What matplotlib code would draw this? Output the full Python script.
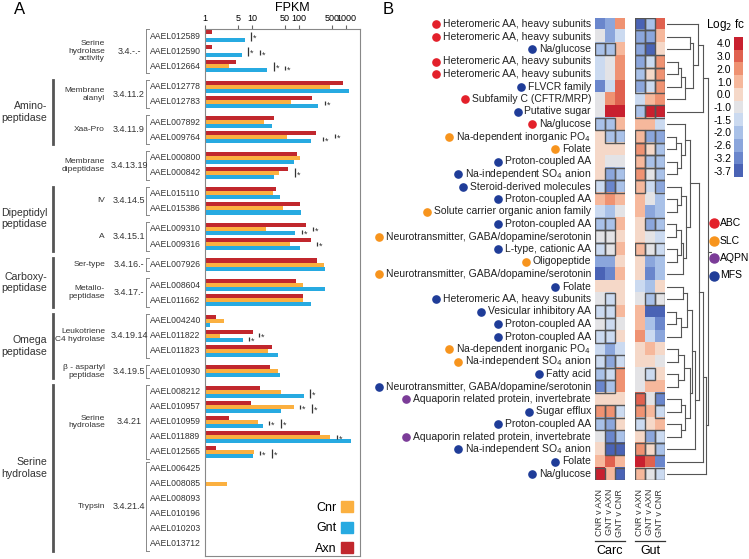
import numpy as np
import matplotlib
matplotlib.use("Agg")
import matplotlib.pyplot as plt
from matplotlib.colors import ListedColormap
from matplotlib.patches import Rectangle, Patch
from matplotlib.lines import Line2D
from matplotlib.ticker import NullFormatter
from matplotlib.transforms import blended_transform_factory

plt.rcParams['font.family'] = ['Liberation Sans', 'DejaVu Sans']

W, H = 749, 559

# ---------------- panel A data ----------------
genes = ["AAEL012589", "AAEL012590", "AAEL012664",
         "AAEL012778", "AAEL012783", "AAEL007892", "AAEL009764",
         "AAEL000800", "AAEL000842",
         "AAEL015110", "AAEL015386", "AAEL009310", "AAEL009316",
         "AAEL007926", "AAEL008604", "AAEL011662",
         "AAEL004240", "AAEL011822", "AAEL011823", "AAEL010930",
         "AAEL008212", "AAEL010957", "AAEL010959", "AAEL011889", "AAEL012565",
         "AAEL006425", "AAEL008085", "AAEL008093", "AAEL010196", "AAEL010203", "AAEL013712"]
nan = np.nan
axn = [1.4, 1.43, 4.6, 880, 190, 29, 235, 92, 59, 32, 105, 144, 178, 238, 85, 120,
       1.7, 10.7, 27, 24, 15, 9.4, 3.2, 280, 1.7, nan, nan, nan, nan, nan, nan]
cnr = [nan, nan, 3.2, 470, 68, 18, 57, 103, 38, 28, 46, 20, 65, 345, 120, 123,
       2.6, 2.1, 22, 36, 41.5, 77, 13.4, 455, 11, nan, 2.9, nan, nan, nan, nan]
gnt = [7.1, 6.2, 21, 1150, 260, 27, 185, 78, 30, 39, 110, 84, 107, 365, 355, 178,
       1.28, 6.5, 36, 39, 126, 41, 17.5, 1280, 10.5, nan, nan, nan, nan, nan, nan]

group_sizes = [3, 2, 2, 2, 2, 2, 1, 2, 3, 1, 5, 6]
sub_labels = ["Serine\nhydrolase\nactivity", "Membrane\nalanyl", "Xaa-Pro", "Membrane\ndipeptidase",
              "IV", "A", "Ser-type", "Metallo-\npeptidase", "Leukotriene\nC4 hydrolase",
              "β - aspartyl\npeptidase", "Serine\nhydrolase", "Trypsin"]
ec_numbers = ["3.4.-.-", "3.4.11.2", "3.4.11.9", "3.4.13.19", "3.4.14.5", "3.4.15.1",
              "3.4.16.-", "3.4.17.-", "3.4.19.14", "3.4.19.5", "3.4.21", "3.4.21.4"]
families = ["Amino-\npeptidase", "Dipeptidyl\npeptidase", "Carboxy-\npeptidase",
            "Omega\npeptidase", "Serine\nhydrolase"]
family_groups = [(1, 2), (4, 5), (6, 7), (8, 9), (10, 11)]

xticks = [1, 5, 10, 50, 100, 500, 1000]

# significance marks: gene, FPKM position, tall bar?, vertical shift
sig = [("AAEL012589", 9.5, 1, 0), ("AAEL012590", 8.2, 1, 0), ("AAEL012590", 14.8, 0, 0.1),
       ("AAEL012664", 29, 1, 0), ("AAEL012664", 50, 0, 0.15), ("AAEL012783", 356, 0, 0.1),
       ("AAEL009764", 324, 0, 0.1), ("AAEL009764", 584, 0, -0.1), ("AAEL000842", 82, 1, 0),
       ("AAEL009310", 199, 0, 0), ("AAEL009310", 116, 0, 0.2), ("AAEL009316", 240, 0, 0),
       ("AAEL011822", 14, 0, -0.05), ("AAEL011822", 8.6, 0, 0.2), ("AAEL008212", 171, 1, 0.1),
       ("AAEL010957", 105, 0, 0), ("AAEL010957", 189, 1, 0.1), ("AAEL010959", 23, 0, 0.05),
       ("AAEL010959", 41, 1, 0.1), ("AAEL011889", 645, 0, 0), ("AAEL012565", 14.8, 0, 0.05),
       ("AAEL012565", 26.6, 1, 0.1)]

# ---------------- panel B data ----------------
transporters = ["Heteromeric AA, heavy subunits", "Heteromeric AA, heavy subunits", "Na/glucose",
                "Heteromeric AA, heavy subunits", "Heteromeric AA, heavy subunits", "FLVCR family",
                "Subfamily C (CFTR/MRP)", "Putative sugar", "Na/glucose",
                "Na-dependent inorganic PO$_4$", "Folate", "Proton-coupled AA",
                "Na-independent SO$_4$ anion", "Steroid-derived molecules", "Proton-coupled AA",
                "Solute carrier organic anion family", "Proton-coupled AA",
                "Neurotransmitter, GABA/dopamine/serotonin", "L-type, cationic AA", "Oligopeptide",
                "Neurotransmitter, GABA/dopamine/serotonin", "Folate", "Heteromeric AA, heavy subunits",
                "Vesicular inhibitory AA", "Proton-coupled AA", "Proton-coupled AA",
                "Na-dependent inorganic PO$_4$", "Na-independent SO$_4$ anion", "Fatty acid",
                "Neurotransmitter, GABA/dopamine/serotonin", "Aquaporin related protein, invertebrate",
                "Sugar efflux", "Proton-coupled AA", "Aquaporin related protein, invertebrate",
                "Na-independent SO$_4$ anion", "Folate", "Na/glucose"]
tr_family = ["ABC", "ABC", "MFS", "ABC", "ABC", "MFS", "ABC", "MFS", "ABC", "SLC", "SLC", "MFS",
             "MFS", "MFS", "MFS", "SLC", "MFS", "SLC", "MFS", "SLC", "SLC", "MFS", "MFS", "MFS",
             "MFS", "MFS", "SLC", "SLC", "MFS", "MFS", "AQPN", "MFS", "MFS", "AQPN", "MFS", "MFS", "MFS"]
family_colors = {"ABC": "#e3202a", "SLC": "#f7941d", "AQPN": "#7b3c98", "MFS": "#1f3c98"}

comparisons = ["CNR v AXN", "GNT v AXN", "GNT v CNR"]
# log2 fold change, columns: Carc (3) then Gut (3)
log2fc = [
    [-3.2, -2.6, 2.0, -3.7, -2.0, 3.0],
    [-1.0, -2.6, -1.5, -2.6, -2.6, 1.0],
    [-2.0, -2.0, 1.0, -2.6, -3.7, 0.0],
    [-1.5, -1.0, 2.0, -2.6, -1.5, 2.0],
    [-1.5, -1.0, 2.0, -2.0, 0.0, 2.0],
    [-3.2, -1.5, 3.0, -2.6, -1.5, 2.0],
    [-1.0, 2.0, 3.0, -1.5, 1.0, 2.0],
    [-1.0, 4.0, 4.0, -2.0, 4.0, 4.0],
    [-2.0, -2.0, 1.0, 1.0, 1.0, -1.5],
    [0.0, -2.0, -2.0, 1.0, -2.6, -2.6],
    [0.0, 0.0, 0.0, 2.0, 0.0, -2.0],
    [0.0, -1.0, -1.0, 1.0, -2.0, -2.0],
    [0.0, -2.6, -2.0, 2.0, -1.0, -2.0],
    [-1.5, -3.2, -2.0, 1.0, -1.5, -2.6],
    [1.0, 2.0, 1.0, 1.0, -1.0, -2.0],
    [-1.5, -2.0, -1.0, 1.0, -2.6, -2.0],
    [-2.0, -2.0, 1.0, 0.0, -2.6, -2.0],
    [-1.0, -1.0, 0.0, 0.0, -1.0, -1.5],
    [-1.5, -1.0, 1.0, 1.0, -1.0, -1.5],
    [-2.6, -2.6, 0.0, 0.0, -2.6, -2.0],
    [-3.7, -3.2, 1.0, 0.0, -3.2, -2.0],
    [0.0, 0.0, 0.0, -1.5, -2.0, 0.0],
    [-1.0, -1.5, 0.0, -1.0, -2.0, -1.0],
    [-1.5, -1.5, 1.0, 1.0, -3.7, -3.7],
    [-1.0, -1.5, -1.0, 1.0, -2.0, -3.2],
    [-1.5, -1.5, 0.0, 2.0, -1.5, -2.6],
    [-1.5, -2.6, -1.5, 0.0, 1.0, 0.0],
    [-1.5, -2.6, -1.5, 0.0, 0.0, -1.0],
    [-2.0, -1.5, 2.0, -1.0, -1.5, 0.0],
    [-3.2, -2.0, 2.0, -1.0, 1.0, 1.0],
    [0.0, 0.0, 0.0, 3.0, -1.0, -3.2],
    [2.0, 2.0, -1.5, 2.0, 1.0, -1.5],
    [-2.0, -2.6, 0.0, -1.5, 0.0, 1.0],
    [-1.0, -3.2, -2.0, 0.0, -2.6, -1.5],
    [0.0, -3.7, -3.7, 2.0, 0.0, -2.0],
    [1.0, 3.0, 1.0, 4.0, 3.0, -3.2],
    [4.0, 1.0, -3.7, 1.0, -1.0, -1.5],
]
significant = ["000110", "000110", "110110", "000111", "000111", "000111", "000000", "000111",
               "110000", "011111", "000111", "000111", "011111", "111101", "000000", "000000",
               "110011", "110000", "110111", "000000", "000000", "000000", "010011", "110000",
               "010000", "110000", "000000", "111000", "110010", "110000", "000101", "111101",
               "110100", "011011", "011111", "000000", "101111"]

levels = [4.0, 3.0, 2.0, 1.0, 0.0, -1.0, -1.5, -2.0, -2.6, -3.2, -3.7]
level_colors = ["#c8202f", "#e0614f", "#ef9272", "#f6b89c", "#f5d8c8", "#e3e3e6",
                "#cbdaf0", "#a9c1e8", "#8ba6dc", "#6a86cc", "#4a63b5"]

# row clustering: (left, right, height)
A1 = (3, 4, .25); A2 = (A1, 5, .32); A3 = (A2, 6, .40); A4 = (1, 2, .50)
A5 = (A4, A3, .58); A6 = (0, A5, .68); A7 = (A6, 7, .80)
B1 = (9, 10, .20); B2 = (11, 12, .22); B3 = (B1, B2, .30); B4 = (8, B3, .40)
B5 = (14, 15, .22); B6 = (13, B5, .30)
B7 = (16, 17, .20); B8 = (18, 19, .22); B9 = (B7, B8, .30); B10 = (B9, 20, .36)
B11 = (B6, B10, .42); B12 = (B4, B11, .50)
C1 = (21, 22, .35); C2 = (23, 24, .20); C3 = (C2, 25, .30); C4 = (C1, C3, .45)
C5 = (26, 27, .25); C6 = (28, 29, .25); C7 = (C5, C6, .38)
C8 = (30, 31, .30); C9 = (32, 33, .30); C10 = (C8, C9, .40)
D1 = (C7, C10, .50); D2 = (C4, D1, .56); D3 = (D2, 34, .62)
E1 = (B12, D3, .70); E2 = (E1, 35, .80); E3 = (E2, 36, .86)
tree = (A7, E3, .92)


def px_ax(fig, x0, y0, x1, y1):
    return fig.add_axes([x0 / W, 1 - y1 / H, (x1 - x0) / W, (y1 - y0) / H])


fig = plt.figure(figsize=(W / 100, H / 100), dpi=100)

# ================= panel A =================
ypos = []
y = 0.0
for g, n in enumerate(group_sizes):
    if g > 0:
        y += 1.13 if g == len(group_sizes) - 1 else 1.37
    for k in range(n):
        ypos.append(y)
        y += 1
    y -= 1
ypos = np.array(ypos)
group_start = np.cumsum([0] + group_sizes[:-1])
group_end = group_start + np.array(group_sizes) - 1

ax = px_ax(fig, 205, 29, 360, 556)
bh = 0.27
for vals, off, col in [(axn, -bh, "#c1272d"), (cnr, 0, "#fbb040"), (gnt, bh, "#27aae1")]:
    v = np.array(vals, dtype=float)
    ax.barh(ypos + off, v - 1, left=1, height=bh, color=col, linewidth=0)
ax.set_xscale("log")
ax.set_xlim(1, 2000)
ax.set_ylim(ypos[-1] + 0.8, -0.47)
ax.xaxis.tick_top()
ax.set_xticks(xticks)
ax.set_xticklabels([str(t) for t in xticks], fontsize=6.5)
ax.xaxis.set_minor_formatter(NullFormatter())
ax.tick_params(axis="x", which="major", length=3, pad=1, color="#666")
ax.tick_params(axis="x", which="minor", length=1.5, color="#666")
ax.set_yticks([])
for s in ax.spines.values():
    s.set_color("#888")
    s.set_linewidth(0.8)
fig.text(292 / W, 1 - 8 / H, "FPKM", fontsize=9, ha="center", va="center")

gindex = {g: i for i, g in enumerate(genes)}
for gene, xv, tall, dy in sig:
    yy = ypos[gindex[gene]] + dy
    half = 0.3 if tall else 0.14
    ax.plot([xv, xv], [yy - half, yy + half], color="#333", lw=0.9, solid_capstyle="butt")
    ax.text(xv * 1.12, yy + 0.15, "*", fontsize=6.5, ha="left", va="center", color="#333")

leg = ax.legend(handles=[Patch(color="#fbb040", label="Cnr"), Patch(color="#27aae1", label="Gnt"),
                         Patch(color="#c1272d", label="Axn")],
                loc="lower right", bbox_to_anchor=(1.0, -0.012), frameon=False, markerfirst=False,
                fontsize=9, handlelength=0.9, handleheight=1.0, labelspacing=0.6,
                handletextpad=0.4, borderaxespad=0.2)

bt = blended_transform_factory(fig.transFigure, ax.transData)
for i in range(len(group_sizes)):
    a, b = ypos[group_start[i]], ypos[group_end[i]]
    mid = (a + b) / 2
    fig.text(105 / W, mid, sub_labels[i], transform=bt, fontsize=6, ha="right", va="center",
             multialignment="right", color="#333", linespacing=1.15)
    fig.text(129 / W, mid, ec_numbers[i], transform=bt, fontsize=6.5, ha="center", va="center",
             color="#333")
    fig.add_artist(Line2D([146 / W, 146 / W], [a - 0.45, b + 0.45], transform=bt, color="#888", lw=0.7))
    for yy in (a - 0.45, b + 0.45):
        fig.add_artist(Line2D([146 / W, 148.5 / W], [yy, yy], transform=bt, color="#888", lw=0.7))
for i, gene in enumerate(genes):
    fig.text(150 / W, ypos[i], gene, transform=bt, fontsize=6.2, ha="left", va="center", color="#333")
for name, (g0, g1) in zip(families, family_groups):
    a, b = ypos[group_start[g0]], ypos[group_end[g1]]
    fig.add_artist(Line2D([53 / W, 53 / W], [a - 0.45, b + 0.45], transform=bt, color="#555", lw=2))
    fig.text(47 / W, (a + b) / 2, name, transform=bt, fontsize=7.6, ha="right", va="center",
             multialignment="right", color="#333", linespacing=1.15)

fig.text(20 / W, 1 - 10 / H, "A", fontsize=12, ha="center", va="center")
fig.text(388 / W, 1 - 10 / H, "B", fontsize=12, ha="center", va="center")

# ================= panel B =================
cmap = ListedColormap(level_colors)
idx = np.array([[levels.index(v) for v in row] for row in log2fc])
nrow = len(transporters)
top, bottom = 17.75, 480.25
hax = []
for k, (x0, x1, name) in enumerate([(595, 625, "Carc"), (635, 665, "Gut")]):
    hx = px_ax(fig, x0, top, x1, bottom)
    hx.imshow(idx[:, 3 * k:3 * k + 3], cmap=cmap, vmin=-0.5, vmax=10.5, aspect="auto",
              interpolation="nearest")
    for r in range(nrow):
        for c in range(3):
            if significant[r][3 * k + c] == "1":
                hx.add_patch(Rectangle((c - 0.5, r - 0.5), 1, 1, fill=False, ec="#555", lw=1.0))
    hx.set_xlim(-0.5, 2.5)
    hx.set_ylim(nrow - 0.5, -0.5)
    hx.axis("off")
    ct = blended_transform_factory(hx.transData, fig.transFigure)
    for c, lab in enumerate(comparisons):
        fig.text(c, 1 - 489 / H, lab, transform=ct, rotation=90, fontsize=6.5, ha="center",
                 va="top", color="#333")
    fig.add_artist(Line2D([x0 / W, x1 / W], [1 - 541 / H] * 2, color="#333", lw=0.9))
    fig.text((x0 + x1) / 2 / W, 1 - 551 / H, name, fontsize=9, ha="center", va="center")
    hax.append(hx)

lt = blended_transform_factory(fig.transFigure, hax[0].transData)
texts = []
for r, name in enumerate(transporters):
    texts.append(fig.text(591 / W, r, name, transform=lt, fontsize=7.5, ha="right", va="center",
                          color="#222"))
fig.canvas.draw()
rend = fig.canvas.get_renderer()
for r, t in enumerate(texts):
    bb = t.get_window_extent(rend)
    yc = hax[0].transData.transform((0, r))[1]
    fig.add_artist(Line2D([(bb.x0 - 7) / W], [yc / H], marker="o", markersize=5.2,
                          color=family_colors[tr_family[r]], transform=fig.transFigure, lw=0))

# dendrogram
dax = px_ax(fig, 667, top, 712, bottom)
dax.set_ylim(nrow - 0.5, -0.5)
dax.set_xlim(0, 1)
dax.axis("off")


def draw(node):
    if not isinstance(node, tuple):
        return float(node), 0.0
    la, ra, h = node
    yl, hl = draw(la)
    yr, hr = draw(ra)
    dax.plot([hl, h], [yl, yl], color="#555", lw=0.8)
    dax.plot([hr, h], [yr, yr], color="#555", lw=0.8)
    dax.plot([h, h], [yl, yr], color="#555", lw=0.8)
    return (yl + yr) / 2, h


yroot, hroot = draw(tree)
dax.plot([hroot, 1.0], [yroot, yroot], color="#555", lw=0.8)

# colour scale
cax = px_ax(fig, 734, 37, 743, 177)
cax.imshow(np.arange(len(levels))[:, None], cmap=cmap, vmin=-0.5, vmax=10.5, aspect="auto")
cax.set_xticks([])
cax.set_yticks(range(len(levels)))
cax.set_yticklabels(["%.1f" % v for v in levels], fontsize=7.5)
cax.tick_params(axis="y", length=0, pad=2)
for s in cax.spines.values():
    s.set_visible(False)
fig.text(726 / W, 1 - 25 / H, "Log$_2$ fc", fontsize=8.5, ha="center", va="center")

for k, fam in enumerate(["ABC", "SLC", "AQPN", "MFS"]):
    yy = 1 - (223 + 17.5 * k) / H
    fig.add_artist(Line2D([714 / W], [yy], marker="o", markersize=6.5, color=family_colors[fam],
                          transform=fig.transFigure, lw=0))
    fig.text(720 / W, yy, fam, fontsize=7.5, ha="left", va="center")

fig.savefig("out.png", dpi=100)
